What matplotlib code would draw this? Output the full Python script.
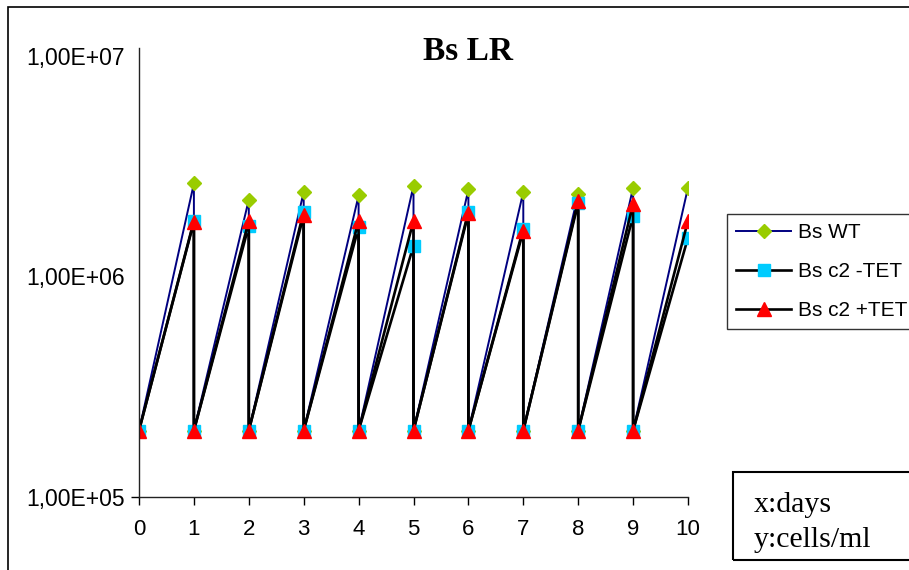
import numpy as np
import matplotlib
matplotlib.use('Agg')
import matplotlib.pyplot as plt
from matplotlib.patches import Rectangle

plt.rcParams['font.family'] = ['Liberation Sans', 'DejaVu Sans']

# days at which cells were diluted (start) and counted (end of growth)
start_days = [0, 1, 2, 3, 4, 5, 6, 7, 8, 9]
count_days = [1, 2, 3, 4, 5, 6, 7, 8, 9, 10]
inoculum = [2e5, 2e5, 2e5, 2e5, 2e5, 2e5, 2e5, 2e5, 2e5, 2e5]

wt = [2.64e6, 2.23e6, 2.42e6, 2.33e6, 2.58e6, 2.48e6, 2.42e6, 2.37e6, 2.53e6, 2.53e6]
c2_minus = [1.79e6, 1.70e6, 1.97e6, 1.67e6, 1.38e6, 1.97e6, 1.65e6, 2.16e6, 1.89e6, 1.50e6]
c2_plus = [1.77e6, 1.79e6, 1.90e6, 1.79e6, 1.79e6, 1.93e6, 1.61e6, 2.21e6, 2.14e6, 1.79e6]

labels = ['Bs WT', 'Bs c2 -TET', 'Bs c2 +TET']
yticks = [1e5, 1e6, 1e7]
ytick_labels = ['1,00E+05', '1,00E+06', '1,00E+07']
xticks = [0, 1, 2, 3, 4, 5, 6, 7, 8, 9, 10]


def sawtooth(peaks):
    # dilution point then growth point, day after day
    x = np.ravel(np.column_stack([start_days, count_days]))
    y = np.ravel(np.column_stack([inoculum, peaks]))
    return x, y


fig = plt.figure(figsize=(9.09, 5.70), dpi=100)
ax = fig.add_axes([139 / 909, 73 / 570, 549 / 909, 449 / 570])

styles = [
    dict(color='#000080', lw=1.4, marker='D', ms=7.5, mfc='#99CC00', mec='#99CC00'),
    dict(color='black', lw=1.9, marker='s', ms=9, mfc='#00CCFF', mec='#00CCFF'),
    dict(color='black', lw=1.9, marker='^', ms=10.5, mfc='#FF0000', mec='#FF0000'),
]
for peaks, lab, st in zip([wt, c2_minus, c2_plus], labels, styles):
    x, y = sawtooth(peaks)
    ax.plot(x, y, label=lab, **st)

ax.set_yscale('log')
ax.set_xlim(0, 10)
ax.set_ylim(1e5, 10 ** 7.036)
ax.set_yticks(yticks)
ax.set_yticklabels(ytick_labels)
ax.yaxis.set_minor_locator(matplotlib.ticker.NullLocator())
ax.set_xticks(xticks)
ax.tick_params(axis='x', direction='out', length=6, width=1, pad=10, labelsize=16)
ax.tick_params(axis='y', direction='out', length=6, width=1, pad=4, labelsize=16.5)
for t in ax.yaxis.get_major_ticks()[1:]:
    t.tick1line.set_visible(False)
for s in ['top', 'right']:
    ax.spines[s].set_visible(False)
for s in ['left', 'bottom']:
    ax.spines[s].set_linewidth(1)
    ax.spines[s].set_color('#222222')

leg = fig.legend(loc='upper left', bbox_to_anchor=(727 / 909, 1 - 214 / 570),
                 fontsize=15, numpoints=1, handlelength=2.64, handletextpad=0.34,
                 borderpad=0.45, labelspacing=0.95, borderaxespad=0, fancybox=False,
                 frameon=True)
leg.get_frame().set_edgecolor('black')
leg.get_frame().set_linewidth(1)

fig.text(468 / 909, 1 - 52 / 570, 'Bs LR', family='Liberation Serif', fontweight='bold',
         fontsize=24, ha='center', va='center')

# outer chart border and the note box
fig.patches.append(Rectangle((8 / 909, -0.2), 1.2, 1.2 - 7 / 570, transform=fig.transFigure,
                             fill=False, edgecolor='black', lw=1.2))
fig.patches.append(Rectangle((733 / 909, 1 - 560 / 570), 0.3, 88 / 570, transform=fig.transFigure,
                             fill=False, edgecolor='black', lw=1.5))
fig.text(754 / 909, 1 - 512 / 570, 'x:days', family='Liberation Serif', fontsize=21.5, va='baseline')
fig.text(754 / 909, 1 - 547 / 570, 'y:cells/ml', family='Liberation Serif', fontsize=21.5, va='baseline')

fig.savefig('out.png', dpi=100)
